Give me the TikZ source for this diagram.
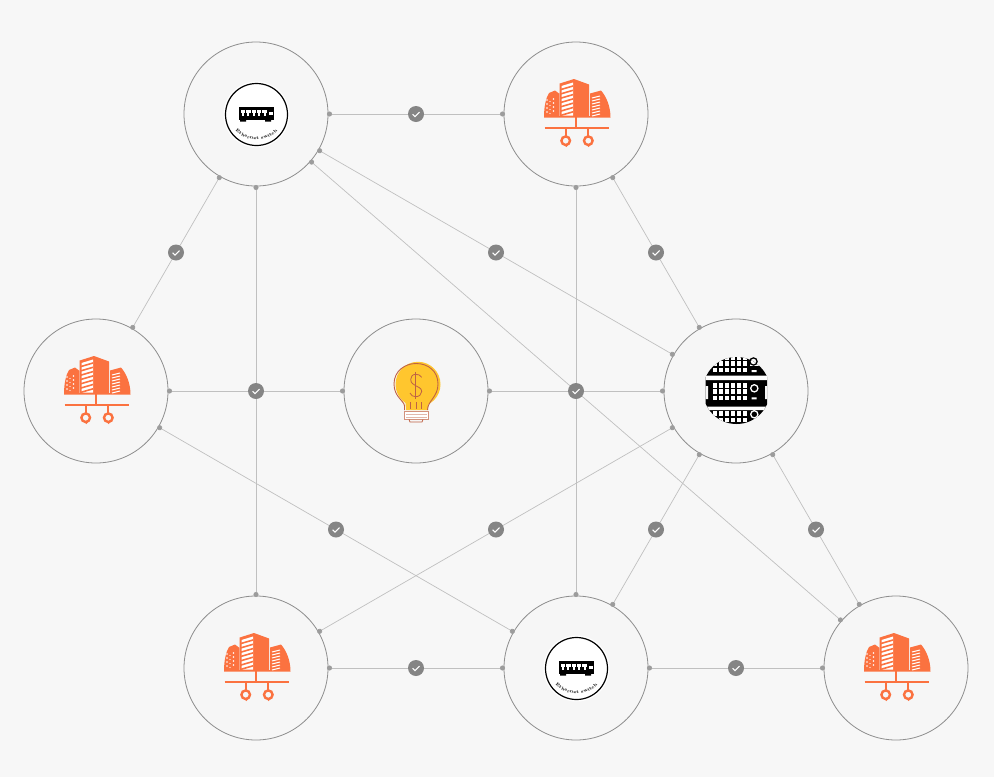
\documentclass[tikz,border=0pt]{standalone}
\usepackage{amsmath,amssymb}
\usetikzlibrary{arrows.meta,decorations.text}
\definecolor{bgpage}{HTML}{F7F7F7}
\definecolor{hubfill}{HTML}{F6F6F6}
\definecolor{hubline}{HTML}{8E8E8E}
\definecolor{linkline}{HTML}{C0C0C0}
\definecolor{linkdot}{HTML}{9C9C9C}
\definecolor{badgefill}{HTML}{858585}
\definecolor{cityorange}{HTML}{FB7240}
\definecolor{bulbyellow}{HTML}{FFC62E}
\definecolor{bulbbrown}{HTML}{BF6244}
\tikzset{
  cityicon/.pic={
    \fill[cityorange] (-32,3.5) .. controls (-32,-8) and (-30,-16) .. (-27,-21) -- (-21,-23.5) -- (-17,-20.5) -- (-17,2) -- (-16.3,2)
      -- (-16.3,-30.5) -- (-2,-35) -- (13,-29.5) -- (13,2) -- (14,2) -- (14,-20.5) -- (25,-23.5)
      .. controls (30,-18) and (34.5,-8) .. (34.5,3.5) -- cycle;
    \foreach \row in {-14,-10,...,0} {
      \fill[white] (-29,\row) circle (.8);
      \fill[white] (-26,\row+1.5) circle (.7);
      \fill[white] (-22.5,\row-1) circle (.8);
    }
    \fill[white] (-14.5,-28) -- (-3,-31.5) -- (-3,1.5) -- (-14.5,1.5) -- cycle;
    \foreach \row in {0,...,6} {
      \draw[cityorange,line width=1.6pt] (-15,-24.5+\row*4.3) -- (-3,-28+\row*4.3);
    }
    \foreach \row in {0,...,6} {
      \draw[white,line width=1pt] (16,-16+\row*3) -- (24,-18+\row*3);
    }
    \draw[cityorange,line width=1.9pt] (-31.5,13.7) -- (32.5,13.7);
    \draw[cityorange,line width=2pt] (0,3) -- (0,13.7);
    \draw[cityorange,line width=2pt] (-10.3,13.7) -- (-10.3,22) (12.3,13.7) -- (12.3,22);
    \draw[cityorange,line width=2.4pt] (-10.3,26.7) circle (4.3) (12.3,26.7) circle (4.3);
    \fill[cityorange] (-12.5,30.5) -- (-7.5,30.5) -- (-9.5,33) -- cycle (10.5,30.5) -- (15,30.5) -- (12.5,33) -- cycle;
  },
  switchicon/.pic={
    \fill[white] (.5,.5) circle (33);
    \draw[black,line width=1.2pt] (.5,.5) circle (31);
    \fill[black] (-17,-7) rectangle (18,5.5);
    \fill[black] (-16,5.5) rectangle (-10,7.5) (9,5.5) rectangle (15,7.5);
    \foreach \col in {0,...,4} {
      \fill[white] (-15.3+\col*5.4,-3.7) rectangle (-10.9+\col*5.4,-.8);
      \fill[white] (-14.1+\col*5.4,-1) rectangle (-12.1+\col*5.4,2);
    }
    \fill[white] (13.3,-2) rectangle (17,1.3);
    \path[decorate,decoration={text along path,text align=center,
      text={|\fontsize{4.4}{5}\selectfont\bfseries|Ethernet switch}}]
      (-22,15) .. controls (-11,29) and (12,29) .. (23,15);
  },
  bulbicon/.pic={
    \fill[bulbyellow] (2,-6.7) circle (22.5);
    \fill[bulbyellow] (-11,5) -- (13,5) -- (12,19) -- (-10,19) -- cycle;
    \draw[bulbbrown,line width=.9pt] (-11.5,19) -- (-11.5,15) .. controls (-11.5,10) and (-22,6) .. (-22,-7)
      .. controls (-22,-20) and (-11,-27.5) .. (0,-27.5) .. controls (12,-27.5) and (22,-20) .. (22,-7)
      .. controls (22,6) and (11.5,10) .. (11.5,19);
    \draw[bulbbrown,line width=.7pt] (-6,11) -- (-6,18) (0,11) -- (0,18) (5,11) -- (5,18);
    \fill[white] (-11.5,20) rectangle (12,28.5);
    \draw[bulbbrown!70,line width=.8pt] (-11.5,20) rectangle (12,28.5);
    \draw[bulbbrown!45,line width=1pt] (-10,23.2) -- (11,23.2) (-10,26) -- (11,26);
    \draw[bulbbrown,line width=.8pt] (-7,28.5) -- (-6,31) -- (6,31) -- (7,28.5);
    \draw[bulbbrown,line width=.8pt] (5.7,-13.7) .. controls (4.5,-16) and (2,-16.7) .. (-.3,-16.7)
      .. controls (-3.5,-16.7) and (-5.3,-14.5) .. (-5.3,-11.5) .. controls (-5.3,-7.5) and (-2,-6.5) .. (-.3,-5.3)
      .. controls (2,-4) and (5.7,-3) .. (5.7,.5) .. controls (5.7,3.5) and (3,5.7) .. (-.3,5.7)
      .. controls (-3,5.7) and (-5,4.5) .. (-6,2);
    \draw[bulbbrown,line width=.8pt] (-.3,-18.7) -- (-.3,7.5);
  },
  servericon/.pic={
    \begin{scope}
      \clip (-30.5,-34) rectangle (31,34);
      \clip (.5,-.5) circle (33.5);
      \fill[black] (-31,-34) rectangle (32,34);
      \fill[white] (-31,-15.3) rectangle (32,-11) (-31,15.7) rectangle (32,19);
      \foreach \top in {-35.5,-29.7,-23.5,-7.7,-1.7,4.7,20,26.5,32.5} {
        \foreach \col in {0,...,5} {
          \fill[white] (-23.3+\col*6,\top) rectangle (-18.6+\col*6,\top+4.7);
        }
      }
      \fill[hubfill] (-31,-5) rectangle (-28,8) (29,-5) rectangle (32,8);
      \fill[white] (13.5,-35) rectangle (32,-25);
      \draw[white,line width=1.3pt] (18.3,-2.7) circle (3.6) (18.3,23.3) circle (3.6);
      \fill[white] (15.7,6.3) rectangle (20.7,8.3) (15.7,-21) rectangle (20.7,-19);
    \end{scope}
    \draw[black,line width=1.3pt] (17.5,-29.5) circle (3.6);
  }
}
\begin{document}
\begin{tikzpicture}[
    x=1pt,y=-1pt,
    hub/.style={circle,draw=hubline,fill=hubfill,line width=.8pt,minimum size=144pt,inner sep=0pt,outer sep=-1pt},
    link/.style={draw=linkline,line width=.7pt,{Circle[length=5pt,color=linkdot]}-{Circle[length=5pt,color=linkdot]}},
    thicklink/.style={link,line width=.95pt},
    checkbadge/.style={circle,fill=badgefill,minimum size=16pt,inner sep=0pt,
      path picture={\draw[-,white,line width=1.1pt] ([shift={(-3.4,.2)}]path picture bounding box.center)
        -- ([shift={(-.9,2.6)}]path picture bounding box.center) -- ([shift={(3.6,-1.9)}]path picture bounding box.center);}}
  ]
  \fill[bgpage] (0,0) rectangle (994,777);
  \useasboundingbox (0,0) rectangle (994,777);

  \node (switchtop) [hub] at (256,114) {};
  \node (citytop) [hub] at (576,114) {};
  \node (cityleft) [hub] at (96,391) {};
  \node (bulb) [hub] at (416,391) {};
  \node (server) [hub] at (736,391) {};
  \node (citybottom) [hub] at (256,668) {};
  \node (switchbottom) [hub] at (576,668) {};
  \node (cityright) [hub] at (896,668) {};

  \draw[thicklink] (switchtop) -- (citybottom);
  \draw[thicklink] (citytop) -- (switchbottom);
  \draw[link] (switchtop) -- (cityright);

  \draw[thicklink] (switchtop) -- node (checktop) [checkbadge] {} (citytop);
  \draw[link] (switchtop) -- node (checka) [checkbadge] {} (cityleft);
  \draw[link] (switchtop) -- node (checkb) [checkbadge] {} (server);
  \draw[link] (citytop) -- node (checkc) [checkbadge] {} (server);
  \draw[thicklink] (cityleft) -- node (checkd) [checkbadge] {} (bulb);
  \draw[thicklink] (bulb) -- node (checke) [checkbadge] {} (server);
  \draw[link] (cityleft) -- node (checkf) [checkbadge] {} (switchbottom);
  \draw[link] (server) -- node (checkg) [checkbadge] {} (citybottom);
  \draw[link] (server) -- node (checkh) [checkbadge] {} (switchbottom);
  \draw[link] (server) -- node (checki) [checkbadge] {} (cityright);
  \draw[thicklink] (citybottom) -- node (checkj) [checkbadge] {} (switchbottom);
  \draw[thicklink] (switchbottom) -- node (checkk) [checkbadge] {} (cityright);

  \pic at (switchtop) {switchicon};
  \pic at (switchbottom) {switchicon};
  \pic at (citytop) {cityicon};
  \pic at (cityleft) {cityicon};
  \pic at (citybottom) {cityicon};
  \pic at (cityright) {cityicon};
  \pic at (bulb) {bulbicon};
  \pic at (server) {servericon};
\end{tikzpicture}
\end{document}
